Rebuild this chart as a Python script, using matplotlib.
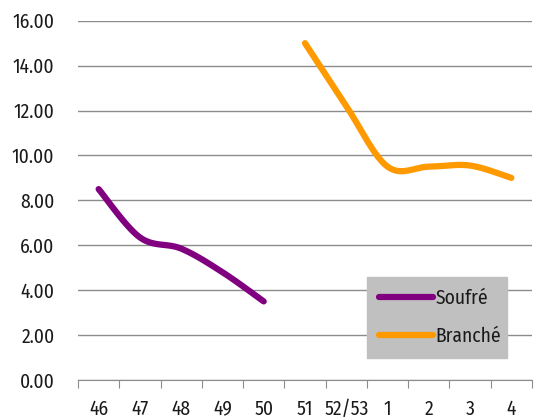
import numpy as np
import matplotlib.pyplot as plt
from matplotlib.lines import Line2D

semaines = ['46', '47', '48', '49', '50', '51', '52/53', '1', '2', '3', '4']
soufre = [8.5, 6.35, 5.85, 4.8, 3.5]
branche = [15.0, 12.2, 9.5, 9.5, 9.55, 9.0]
pos_soufre = [0, 1, 2, 3, 4]
pos_branche = [5, 6, 7, 8, 9, 10]

violet = '#800080'
orange = '#FF9900'

plt.rcParams['font.family'] = ['Fira Sans Condensed', 'DejaVu Sans']
plt.rcParams['text.color'] = '#1a1a1a'
plt.rcParams['xtick.labelcolor'] = '#1a1a1a'
plt.rcParams['ytick.labelcolor'] = '#1a1a1a'


def lisser(xs, ys, n=30):
    # courbe de Bezier type Catmull-Rom passant par chaque point
    xs = np.asarray(xs, float)
    ys = np.asarray(ys, float)
    px = np.concatenate([[xs[0]], xs, [xs[-1]]])
    py = np.concatenate([[ys[0]], ys, [ys[-1]]])
    cx, cy = [], []
    t = np.linspace(0, 1, n)
    for i in range(1, len(px) - 2):
        p0 = np.array([px[i], py[i]])
        p3 = np.array([px[i + 1], py[i + 1]])
        c1 = p0 + (np.array([px[i + 1], py[i + 1]]) - np.array([px[i - 1], py[i - 1]])) / 6
        c2 = p3 - (np.array([px[i + 2], py[i + 2]]) - np.array([px[i], py[i]])) / 6
        b = ((1 - t) ** 3)[:, None] * p0 + (3 * (1 - t) ** 2 * t)[:, None] * c1 \
            + (3 * (1 - t) * t ** 2)[:, None] * c2 + (t ** 3)[:, None] * p3
        cx.extend(b[:, 0])
        cy.extend(b[:, 1])
    return cx, cy


fig = plt.figure(figsize=(5.36, 4.19), dpi=100)
ax = fig.add_axes([0.1455, 0.0931, 0.847, 0.8575])

x, y = lisser(pos_soufre, soufre)
ax.plot(x, y, color=violet, lw=4.5, solid_capstyle='round', zorder=3)
x, y = lisser(pos_branche, branche)
ax.plot(x, y, color=orange, lw=4.5, solid_capstyle='round', zorder=3)

ax.set_xlim(-0.5, 10.5)
ax.set_ylim(0, 16)
ax.set_yticks(np.arange(0, 17, 2))
ax.set_yticklabels(['%.2f' % v for v in np.arange(0, 17, 2)], fontsize=14)
ax.tick_params(axis='y', length=0, pad=17)
ax.yaxis.grid(True, color='#8c8c8c', lw=1)
ax.set_axisbelow(True)

ax.set_xticks(np.arange(-0.5, 11, 1))
ax.set_xticklabels([])
ax.set_xticks(range(len(semaines)), minor=True)
ax.set_xticklabels(semaines, minor=True, fontsize=14)
ax.tick_params(axis='x', which='major', length=6, color='#8c8c8c', direction='out')
ax.tick_params(axis='x', which='minor', length=0, pad=14)

for s in ['left', 'right', 'top']:
    ax.spines[s].set_visible(False)
ax.spines['bottom'].set_color('#8c8c8c')

poignees = [Line2D([], [], color=violet, lw=4.5, solid_capstyle='round'),
            Line2D([], [], color=orange, lw=4.5, solid_capstyle='round')]
leg = ax.legend(poignees, ['Soufré', 'Branché'], loc='center',
                bbox_to_anchor=(0.637, 0.064, 0.308, 0.22), mode='expand',
                fontsize=14, frameon=True, fancybox=False, framealpha=1,
                facecolor='#c0c0c0', edgecolor='#c0c0c0', handlelength=2.8,
                handletextpad=0.1, labelspacing=0.95, borderaxespad=0,
                borderpad=0.6)
leg.set_zorder(5)

fig.savefig('out.png', dpi=100)
